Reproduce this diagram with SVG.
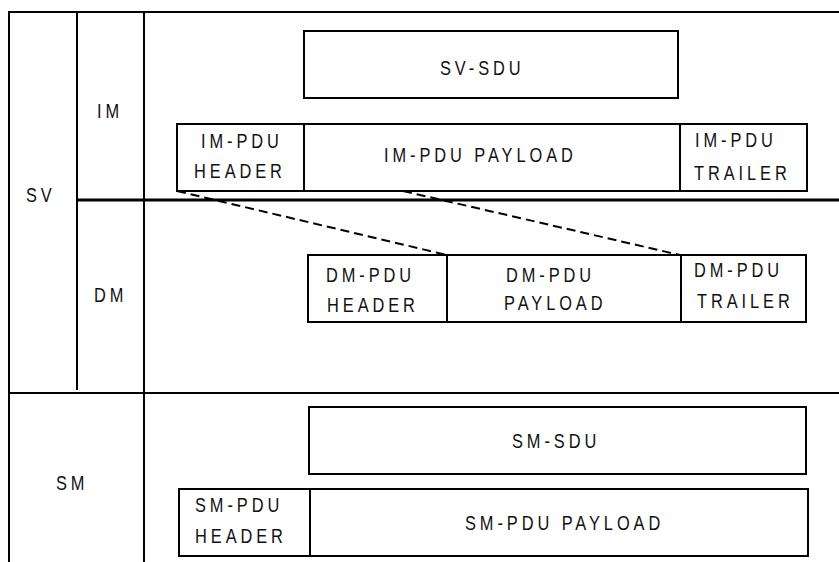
<svg xmlns="http://www.w3.org/2000/svg" width="839" height="562" viewBox="0 0 839 562">
<style>
.ln{stroke:#000;stroke-width:2;fill:none}
.box{stroke:#000;stroke-width:2;fill:#fff}
.t{font-family:"Liberation Sans",Arial,sans-serif;font-size:20px;letter-spacing:4.8px;fill:#111}
.dash{stroke:#000;stroke-width:2;stroke-dasharray:9,5;fill:none}
</style>
<rect width="839" height="562" fill="#fff"/>
<g id="frame">
<line class="ln" x1="9" y1="12" x2="839" y2="12"/>
<line class="ln" x1="9" y1="11" x2="9" y2="562"/>
<line class="ln" x1="77" y1="12" x2="77" y2="390"/>
<line class="ln" x1="144" y1="12" x2="144" y2="562"/>
<line x1="77" y1="200" x2="839" y2="200" stroke="#000" stroke-width="3"/>
<line class="ln" x1="9" y1="393" x2="839" y2="393"/>
</g>
<g id="labels">
<text class="t" transform="translate(26 202) scale(.82 1)">SV</text>
<text class="t" transform="translate(97 118) scale(.82 1)">IM</text>
<text class="t" transform="translate(94 302) scale(.82 1)">DM</text>
<text class="t" transform="translate(56 490) scale(.82 1)">SM</text>
</g>
<g id="connectors">
<line class="dash" x1="177" y1="191" x2="447" y2="255"/>
<line class="dash" x1="403" y1="191" x2="680" y2="255"/>
</g>
<g id="sv-sdu">
<rect class="box" x="304" y="31" width="374" height="67"/>
<text class="t" transform="translate(440 75) scale(.82 1)">SV-SDU</text>
</g>
<g id="im-pdu-header">
<rect class="box" x="177" y="124" width="127" height="67"/>
<text class="t" transform="translate(201 148) scale(.82 1)">IM-PDU</text>
<text class="t" transform="translate(194 178) scale(.82 1)">HEADER</text>
</g>
<g id="im-pdu-payload">
<rect class="box" x="304" y="124" width="376" height="67"/>
<text class="t" transform="translate(384 162) scale(.82 1)">IM-PDU PAYLOAD</text>
</g>
<g id="im-pdu-trailer">
<rect class="box" x="680" y="124" width="127" height="67"/>
<text class="t" transform="translate(695 147) scale(.82 1)">IM-PDU</text>
<text class="t" transform="translate(694 180) scale(.82 1)">TRAILER</text>
</g>
<g id="dm-pdu-header">
<rect class="box" x="308" y="255" width="139" height="67"/>
<text class="t" transform="translate(326 282) scale(.82 1)">DM-PDU</text>
<text class="t" transform="translate(327 312) scale(.82 1)">HEADER</text>
</g>
<g id="dm-pdu-payload">
<rect class="box" x="447" y="255" width="234" height="67"/>
<text class="t" transform="translate(506 282) scale(.82 1)">DM-PDU</text>
<text class="t" transform="translate(504 310) scale(.82 1)">PAYLOAD</text>
</g>
<g id="dm-pdu-trailer">
<rect class="box" x="681" y="255" width="125" height="67"/>
<text class="t" transform="translate(694 277) scale(.82 1)">DM-PDU</text>
<text class="t" transform="translate(697 308) scale(.82 1)">TRAILER</text>
</g>
<g id="sm-sdu">
<rect class="box" x="309" y="407" width="497" height="67"/>
<text class="t" transform="translate(512 448) scale(.82 1)">SM-SDU</text>
</g>
<g id="sm-pdu-header">
<rect class="box" x="179" y="489" width="131" height="67"/>
<text class="t" transform="translate(195 512) scale(.82 1)">SM-PDU</text>
<text class="t" transform="translate(195 543) scale(.82 1)">HEADER</text>
</g>
<g id="sm-pdu-payload">
<rect class="box" x="310" y="489" width="498" height="67"/>
<text class="t" transform="translate(465 530) scale(.82 1)">SM-PDU PAYLOAD</text>
</g>
</svg>
